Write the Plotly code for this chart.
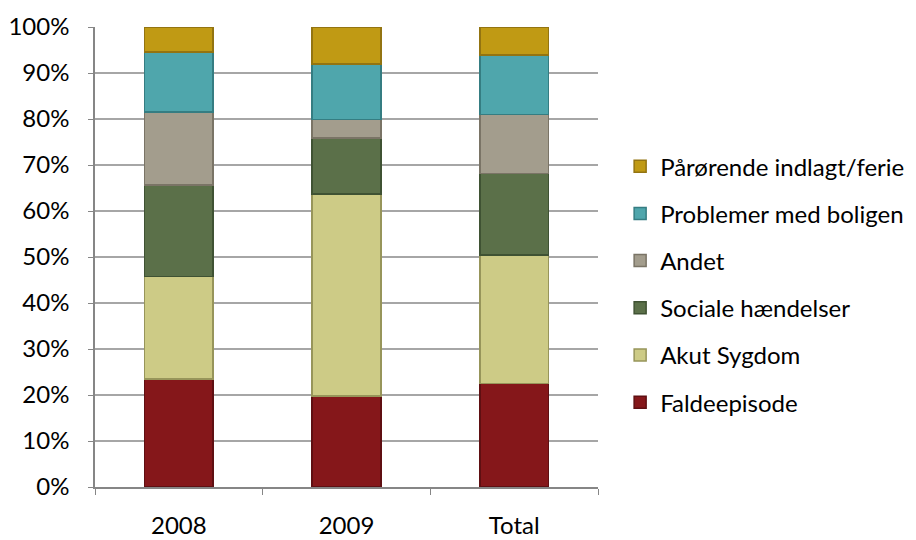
import plotly.graph_objects as go

categories = ['2008', '2009', 'Total']

series_names = ['Faldeepisode', 'Akut Sygdom', 'Sociale hændelser', 'Andet',
                'Problemer med boligen', 'Pårørende indlagt/ferie']

faldeepisode = [23.5, 19.8, 22.5]
akut_sygdom = [22.3, 43.9, 27.9]
sociale = [19.9, 12.2, 17.8]
andet = [15.8, 4.0, 12.8]
problemer = [13.1, 12.1, 12.9]
paaroerende = [5.4, 8.0, 6.1]

values = [faldeepisode, akut_sygdom, sociale, andet, problemer, paaroerende]

fills = ['#85171A', '#CDCB86', '#5B7049', '#A39D8D', '#4FA6AC', '#C09A14']
borders = ['#5F0F12', '#97955A', '#3F5233', '#7A7466', '#357D82', '#937411']

font = 'Lato, Noto Sans, sans-serif'

fig = go.Figure()
for k, (name, vals, fc, bc) in enumerate(zip(series_names, values, fills, borders)):
    fig.add_trace(go.Bar(x=categories, y=vals, name=name, legendgroup=name,
                         legendrank=100 - k,
                         marker=dict(color=fc, line=dict(color=bc, width=1.5))))

fig.update_layout(
    barmode='stack',
    bargap=0.59,
    width=916, height=540,
    margin=dict(l=87, r=326, t=19, b=61, pad=0),
    plot_bgcolor='white',
    paper_bgcolor='white',
    font=dict(family=font, size=24, color='#000000'),
    legend=dict(x=1.044, y=0.44, xanchor='left', yanchor='middle',
                traceorder='grouped', tracegroupgap=13,
                font=dict(size=24), itemwidth=30, borderwidth=0),
    yaxis=dict(range=[0, 100], dtick=10, ticksuffix='%', showgrid=True,
               gridcolor='#A6A6A6', gridwidth=1.5, showline=True,
               linecolor='#868686', linewidth=1.5, ticks='outside',
               ticklen=5, tickcolor='#868686', zeroline=False,
               ticklabelstandoff=14, automargin=False),
    xaxis=dict(showline=True, linecolor='#868686', linewidth=1.5,
               ticks='outside', ticklen=6, tickcolor='#868686',
               tickson='boundaries', ticklabelstandoff=16, automargin=False),
)

fig.write_html('out.html')
